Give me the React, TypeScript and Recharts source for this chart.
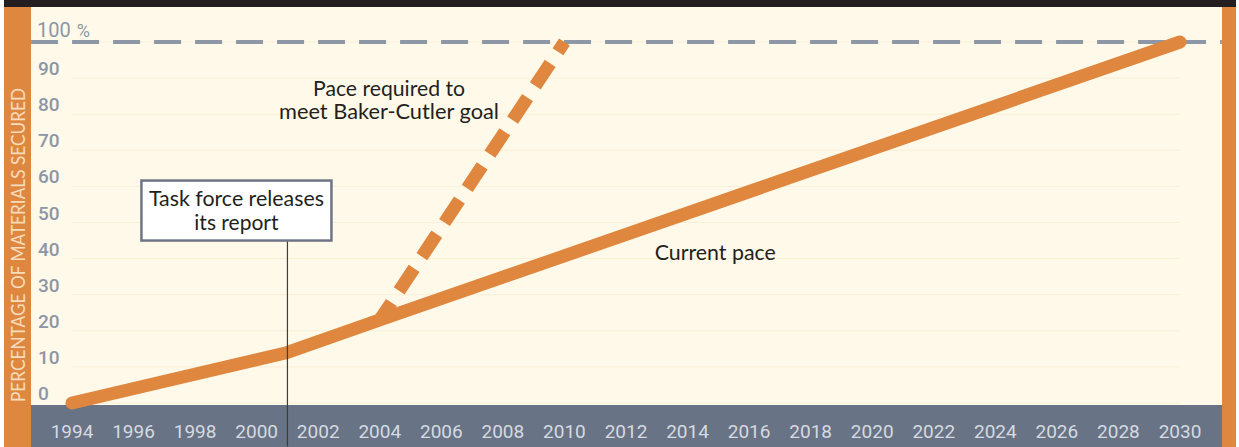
import React from "react";
import {
  LineChart,
  Line,
  XAxis,
  YAxis,
  CartesianGrid,
  ReferenceLine,
  ReferenceDot,
} from "recharts";

// ---- data ----
const currentYears = [1994, 2001, 2004, 2030];
const currentValues = [0, 14, 23, 100];
const requiredYears = [2004, 2010];
const requiredValues = [23, 100];
const xTicks = [1994, 1996, 1998, 2000, 2002, 2004, 2006, 2008, 2010, 2012, 2014, 2016, 2018, 2020, 2022, 2024, 2026, 2028, 2030];
const yTicks = [0, 10, 20, 30, 40, 50, 60, 70, 80, 90, 100];
const yTickLabels = ["0", "10", "20", "30", "40", "50", "60", "70", "80", "90", "100"];
const yTopUnit = "%";
const reportYear = 2001;
const goalValue = 100;

const currentData = currentYears.map((year, i) => ({ year, value: currentValues[i] }));
const requiredData = requiredYears.map((year, i) => ({ year, value: requiredValues[i] }));

const ORANGE = "#e0873f";
const CREAM = "#fff9e9";
const SLATE = "#687385";
const FONT = "Lato, 'Open Sans', sans-serif";
const NUMFONT = "Roboto, 'Open Sans', sans-serif";

const renderXTick = (props: any) => {
  const { x, y, payload } = props;
  return (
    <text x={x} y={y + 27} textAnchor="middle" style={{ fill: "#d6dae1", fontSize: 19, fontWeight: 400, fontFamily: NUMFONT }}>
      {payload.value}
    </text>
  );
};

const renderYTick = (props: any) => {
  const { y, payload } = props;
  const idx = yTicks.indexOf(payload.value);
  const isTop = idx === yTicks.length - 1;
  if (isTop) {
    return (
      <text x={37} y={y - 5} textAnchor="start" style={{ fill: "#8d96a6", fontSize: 20, fontWeight: 400, fontFamily: NUMFONT }}>
        {yTickLabels[idx]}
        <tspan dx={6} style={{ fontSize: 18 }}>{yTopUnit}</tspan>
      </text>
    );
  }
  return (
    <text x={38} y={y - 3} textAnchor="start" style={{ fill: "#8d96a6", fontSize: 19, fontWeight: 500, fontFamily: NUMFONT }}>
      {yTickLabels[idx]}
    </text>
  );
};

const ReportBox = (props: any) => {
  const { cx, cy } = props;
  if (cx == null || cy == null) return null;
  return (
    <g>
      <rect x={cx - 146} y={cy - 60} width={190} height={60} fill="#ffffff" stroke="#6d7587" strokeWidth={2.5} />
      <text x={cx - 51} y={cy - 35} textAnchor="middle" fill="#231f20" fontSize={21} fontFamily={FONT} textLength={175} lengthAdjust="spacingAndGlyphs">
        Task force releases
      </text>
      <text x={cx - 51} y={cy - 11} textAnchor="middle" fill="#231f20" fontSize={21} fontFamily={FONT}>
        its report
      </text>
    </g>
  );
};

const PaceLabel = (props: any) => {
  const { cx, cy } = props;
  if (cx == null || cy == null) return null;
  return (
    <g>
      <text x={cx} y={cy} textAnchor="middle" fill="#231f20" fontSize={21} fontFamily={FONT} textLength={152} lengthAdjust="spacingAndGlyphs">
        Pace required to
      </text>
      <text x={cx} y={cy + 23} textAnchor="middle" fill="#231f20" fontSize={21} fontFamily={FONT} textLength={220} lengthAdjust="spacingAndGlyphs">
        meet Baker-Cutler goal
      </text>
    </g>
  );
};

const CurrentLabel = (props: any) => {
  const { cx, cy } = props;
  if (cx == null || cy == null) return null;
  return (
    <text x={cx} y={cy} textAnchor="middle" fill="#231f20" fontSize={21} fontFamily={FONT} textLength={121} lengthAdjust="spacingAndGlyphs">
      Current pace
    </text>
  );
};

export default function App() {
  return (
    <div style={{ position: "fixed", left: 0, top: 0, width: 1239, height: 447, background: "#ffffff", overflow: "hidden" }}>
      {/* frame */}
      <div style={{ position: "absolute", left: 4, top: 0, width: 1232, height: 7, background: "#231f20" }} />
      <div style={{ position: "absolute", left: 31, top: 7, width: 1191, height: 398, background: CREAM }} />
      <div style={{ position: "absolute", left: 31, top: 405, width: 1191, height: 42, background: SLATE }} />
      <div style={{ position: "absolute", left: 4, top: 7, width: 27, height: 440, background: ORANGE }} />
      <div style={{ position: "absolute", left: 1222, top: 7, width: 14, height: 440, background: ORANGE }} />
      <svg style={{ position: "absolute", left: 0, top: 0 }} width={40} height={447}>
        <text
          transform="translate(25,245) rotate(-90)"
          textAnchor="middle"
          fill="#f6dcbd"
          fontSize={19}
          fontFamily={FONT}
          textLength={314}
          lengthAdjust="spacingAndGlyphs"
        >
          PERCENTAGE OF MATERIALS SECURED
        </text>
      </svg>
      <div style={{ position: "absolute", left: 0, top: 0 }}>
        <LineChart width={1239} height={447} margin={{ top: 42, right: 59, bottom: 0, left: 0 }}>
          <CartesianGrid horizontal vertical={false} stroke="#f8efd6" strokeWidth={1} />
          <XAxis
            type="number"
            dataKey="year"
            domain={[1994, 2030]}
            ticks={xTicks}
            height={44}
            axisLine={false}
            tickLine={false}
            tick={renderXTick}
            interval={0}
            allowDuplicatedCategory={false}
          />
          <YAxis
            type="number"
            domain={[0, 100]}
            ticks={yTicks}
            width={72}
            axisLine={false}
            tickLine={false}
            tick={renderYTick}
            interval={0}
          />
          <ReferenceLine
            segment={[{ x: 1992.67, y: goalValue }, { x: 2031.36, y: goalValue }]}
            stroke="#8e97a6"
            strokeWidth={4}
            strokeDasharray="27 14"
            ifOverflow="visible"
          />
          <Line
            data={requiredData}
            dataKey="value"
            type="linear"
            stroke={ORANGE}
            strokeWidth={13}
            strokeDasharray="27 14"
            strokeDashoffset={6}
            strokeLinecap="butt"
            dot={false}
            activeDot={false}
            isAnimationActive={false}
          />
          <Line
            data={currentData}
            dataKey="value"
            type="linear"
            stroke={ORANGE}
            strokeWidth={13}
            strokeLinecap="round"
            strokeLinejoin="round"
            dot={false}
            activeDot={false}
            isAnimationActive={false}
          />
          <ReferenceLine
            segment={[{ x: reportYear, y: 45 }, { x: reportYear, y: -12 }]}
            stroke="#3d3d3d"
            strokeWidth={1.2}
            ifOverflow="visible"
          />
          <ReferenceDot x={reportYear} y={45} ifOverflow="visible" shape={<ReportBox />} />
          <ReferenceDot x={2004.3} y={85} ifOverflow="visible" shape={<PaceLabel />} />
          <ReferenceDot x={2014.9} y={39.6} ifOverflow="visible" shape={<CurrentLabel />} />
        </LineChart>
      </div>
    </div>
  );
}
